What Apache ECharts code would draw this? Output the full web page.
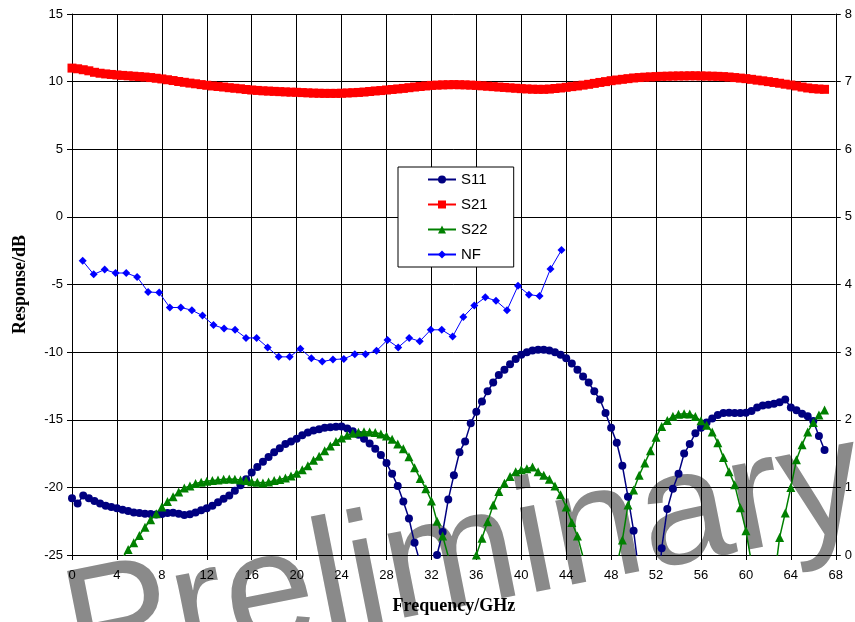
<!DOCTYPE html>
<html>
<head>
<meta charset="utf-8">
<script src="https://cdn.jsdelivr.net/npm/echarts@6/dist/echarts.min.js"></script>
<style>
  html, body { margin: 0; padding: 0; background: #fff; }
  #chart { width: 855px; height: 622px; }
</style>
</head>
<body>
<div id="chart"></div>
<script>
// sweep frequencies (GHz) shared by S11, S21, S22
var freq = [
  0, 0.5, 1, 1.5, 2, 2.5, 3, 3.5, 4, 4.5,
  5, 5.5, 6, 6.5, 7, 7.5, 8, 8.5, 9, 9.5,
  10, 10.5, 11, 11.5, 12, 12.5, 13, 13.5, 14, 14.5,
  15, 15.5, 16, 16.5, 17, 17.5, 18, 18.5, 19, 19.5,
  20, 20.5, 21, 21.5, 22, 22.5, 23, 23.5, 24, 24.5,
  25, 25.5, 26, 26.5, 27, 27.5, 28, 28.5, 29, 29.5,
  30, 30.5, 31, 31.5, 32, 32.5, 33, 33.5, 34, 34.5,
  35, 35.5, 36, 36.5, 37, 37.5, 38, 38.5, 39, 39.5,
  40, 40.5, 41, 41.5, 42, 42.5, 43, 43.5, 44, 44.5,
  45, 45.5, 46, 46.5, 47, 47.5, 48, 48.5, 49, 49.5,
  50, 50.5, 51, 51.5, 52, 52.5, 53, 53.5, 54, 54.5,
  55, 55.5, 56, 56.5, 57, 57.5, 58, 58.5, 59, 59.5,
  60, 60.5, 61, 61.5, 62, 62.5, 63, 63.5, 64, 64.5,
  65, 65.5, 66, 66.5, 67
];

var s11 = [
  -20.8, -21.2, -20.6, -20.8, -21.0, -21.2, -21.35, -21.45, -21.55, -21.65,
  -21.75, -21.85, -21.9, -21.95, -21.97, -22.0, -21.97, -21.9, -21.87, -21.95,
  -22.04, -21.98, -21.85, -21.7, -21.55, -21.35, -21.1, -20.85, -20.6, -20.25,
  -19.85, -19.4, -18.9, -18.5, -18.1, -17.75, -17.4, -17.1, -16.8, -16.6,
  -16.4, -16.15, -15.95, -15.8, -15.7, -15.6, -15.55, -15.52, -15.5, -15.65,
  -15.85, -16.1, -16.4, -16.75, -17.15, -17.6, -18.2, -19.0, -19.9, -21.05,
  -22.3, -24.1, -25.6, -31, -29, -25.0, -23.3, -20.9, -19.1, -17.4,
  -16.6, -15.25, -14.4, -13.65, -12.9, -12.25, -11.7, -11.3, -10.9, -10.5,
  -10.2, -10.0, -9.88, -9.83, -9.83, -9.88, -10.0, -10.2, -10.46, -10.85,
  -11.3, -11.8, -12.25, -12.9, -13.5, -14.5, -15.6, -16.7, -18.4, -20.7,
  -23.2, -26.5, -33, -35, -30, -24.5, -21.6, -20.1, -19.0, -17.5,
  -16.8, -16.0, -15.6, -15.2, -14.9, -14.65, -14.5, -14.48, -14.5, -14.5,
  -14.48, -14.35, -14.1, -13.95, -13.9, -13.82, -13.7, -13.5, -14.1, -14.3,
  -14.55, -14.75, -15.1, -16.2, -17.24
];

var s21 = [
  11.0, 10.95, 10.88, 10.8, 10.69, 10.62, 10.57, 10.53, 10.49, 10.46,
  10.43, 10.4, 10.37, 10.34, 10.3, 10.25, 10.2, 10.14, 10.08, 10.01,
  9.95, 9.89, 9.84, 9.78, 9.73, 9.68, 9.64, 9.6, 9.55, 9.51,
  9.47, 9.42, 9.38, 9.35, 9.32, 9.3, 9.28, 9.26, 9.24, 9.22,
  9.21, 9.19, 9.17, 9.15, 9.14, 9.13, 9.13, 9.13, 9.14, 9.16,
  9.18, 9.2, 9.23, 9.27, 9.31, 9.34, 9.38, 9.42, 9.46, 9.5,
  9.55, 9.6, 9.64, 9.68, 9.72, 9.74, 9.76, 9.77, 9.78, 9.77,
  9.76, 9.74, 9.72, 9.69, 9.66, 9.63, 9.6, 9.57, 9.54, 9.51,
  9.48, 9.46, 9.44, 9.43, 9.43, 9.45, 9.49, 9.53, 9.58, 9.63,
  9.68, 9.74, 9.8, 9.87, 9.94, 10.0, 10.07, 10.12, 10.17, 10.22,
  10.27, 10.3, 10.33, 10.35, 10.37, 10.39, 10.4, 10.41, 10.42, 10.42,
  10.43, 10.43, 10.42, 10.41, 10.4, 10.39, 10.37, 10.34, 10.3, 10.26,
  10.22, 10.17, 10.11, 10.06, 10.0, 9.94, 9.88, 9.81, 9.75, 9.68,
  9.6, 9.53, 9.48, 9.45, 9.43
];

var s22 = [
  -32, -31.5, -31, -30.3, -29.6, -28.9, -28.1, -27.3, -26.3, -25.2,
  -24.6, -24.1, -23.55, -22.95, -22.4, -21.95, -21.45, -21.05, -20.7, -20.35,
  -20.05, -19.9, -19.72, -19.62, -19.55, -19.5, -19.45, -19.4, -19.38, -19.4,
  -19.45, -19.5, -19.58, -19.62, -19.68, -19.6, -19.5, -19.42, -19.3, -19.15,
  -18.96, -18.7, -18.4, -18.0, -17.7, -17.3, -16.95, -16.6, -16.35, -16.15,
  -16.0, -15.92, -15.88, -15.9, -15.95, -16.05, -16.2, -16.45, -16.8, -17.15,
  -17.73, -18.55, -19.35, -20.1, -21.0, -22.5, -23.6, -25.1, -28, -31,
  -31, -28, -25.0, -23.76, -22.55, -21.3, -20.3, -19.7, -19.2, -18.85,
  -18.7, -18.62, -18.5, -18.85, -19.1, -19.4, -19.9, -20.55, -21.45, -22.6,
  -23.6, -25.15, -28, -31, -32, -30, -28, -25.8, -23.9, -21.3,
  -20.2, -19.1, -18.2, -17.3, -16.3, -15.5, -15.05, -14.75, -14.6, -14.55,
  -14.57, -14.76, -15.08, -15.4, -15.9, -16.7, -17.8, -18.85, -19.8, -21.5,
  -23.2, -25.6, -29, -31, -30, -27, -23.7, -21.9, -20.0, -17.95,
  -16.85, -15.9, -15.2, -14.65, -14.28
];

// noise figure, read on the right axis
var nfFreq = [
  0.95, 1.93, 2.91, 3.88, 4.83, 5.80, 6.78, 7.76, 8.71, 9.69,
  10.67, 11.62, 12.60, 13.54, 14.52, 15.49, 16.44, 17.42, 18.40, 19.38,
  20.33, 21.31, 22.28, 23.23, 24.20, 25.18, 26.13, 27.11, 28.09, 29.04,
  30.02, 30.96, 31.94, 32.92, 33.89, 34.84, 35.82, 36.80, 37.75, 38.73,
  39.71, 40.68, 41.63, 42.60, 43.58
];
var nf = [
  4.35, 4.15, 4.22, 4.17, 4.17, 4.11, 3.89, 3.88, 3.66, 3.66,
  3.62, 3.54, 3.40, 3.35, 3.33, 3.21, 3.21, 3.07, 2.93, 2.93,
  3.05, 2.91, 2.86, 2.89, 2.90, 2.97, 2.97, 3.02, 3.18, 3.07,
  3.21, 3.16, 3.33, 3.33, 3.23, 3.52, 3.69, 3.81, 3.76, 3.62,
  3.98, 3.85, 3.83, 4.23, 4.51
];

function pairs(xs, ys) {
  return xs.map(function (x, i) { return [x, ys[i]]; });
}

var chart = echarts.init(document.getElementById('chart'), null, { renderer: 'canvas' });

var font = '"Liberation Sans", Arial, sans-serif';
var serif = '"Liberation Serif", "Times New Roman", serif';

var option = {
  animation: false,
  backgroundColor: '#fff',
  grid: { left: 72, right: 18, top: 14, bottom: 67, containLabel: false },
  graphic: [{
    type: 'text',
    x: 67,
    y: 639,
    rotation: 11.2 * Math.PI / 180,
    z: 1,
    silent: true,
    style: {
      text: 'Preliminary',
      fontSize: 162,
      fontFamily: font,
      fill: '#8a8a8a',
      align: 'left',
      verticalAlign: 'middle'
    }
  }],
  legend: {
    orient: 'vertical',
    left: 398,
    top: 167,
    padding: [5, 26, 5, 29],
    itemGap: 10,
    itemWidth: 28,
    itemHeight: 10,
    backgroundColor: '#fff',
    borderColor: '#000',
    borderWidth: 1,
    borderRadius: 0,
    z: 10,
    textStyle: { fontFamily: font, fontSize: 15, color: '#000', padding: [0, 0, 0, 0] },
    data: ['S11', 'S21', 'S22', 'NF']
  },
  xAxis: {
    type: 'value',
    min: 0,
    max: 68,
    interval: 4,
    z: 3,
    name: 'Frequency/GHz',
    nameLocation: 'middle',
    nameGap: 42,
    nameTextStyle: { fontFamily: serif, fontSize: 18, fontWeight: 'bold', color: '#000' },
    axisLine: { onZero: false, lineStyle: { color: '#000', width: 1 } },
    axisTick: { show: true, length: 5, inside: false, lineStyle: { color: '#000' } },
    axisLabel: { fontFamily: font, fontSize: 13, color: '#000', margin: 14 },
    splitLine: { show: true, lineStyle: { color: '#000', width: 1 } }
  },
  yAxis: [{
    type: 'value',
    min: -25,
    max: 15,
    interval: 5,
    z: 3,
    name: 'Response/dB',
    nameLocation: 'middle',
    nameGap: 43,
    nameRotate: 90,
    nameTextStyle: { fontFamily: serif, fontSize: 18, fontWeight: 'bold', color: '#000' },
    axisLine: { show: true, onZero: false, lineStyle: { color: '#000', width: 1 } },
    axisTick: { show: true, length: 5, lineStyle: { color: '#000' } },
    axisLabel: { fontFamily: font, fontSize: 13, color: '#000', margin: 9 },
    splitLine: { show: true, lineStyle: { color: '#000', width: 1 } }
  }, {
    type: 'value',
    min: 0,
    max: 8,
    interval: 1,
    z: 3,
    position: 'right',
    axisLine: { show: true, onZero: false, lineStyle: { color: '#000', width: 1 } },
    axisTick: { show: true, length: 5, lineStyle: { color: '#000' } },
    axisLabel: { fontFamily: font, fontSize: 13, color: '#000', margin: 9 },
    splitLine: { show: false }
  }],
  series: [{
    name: 'S11',
    type: 'line',
    z: 5,
    clip: true,
    showAllSymbol: true,
    symbol: 'circle',
    symbolSize: 8,
    color: '#000080',
    lineStyle: { color: '#000080', width: 1.5 },
    itemStyle: { color: '#000080' },
    data: pairs(freq, s11)
  }, {
    name: 'S21',
    type: 'line',
    z: 5,
    clip: true,
    showAllSymbol: true,
    symbol: 'rect',
    symbolSize: 9,
    color: '#ff0000',
    lineStyle: { color: '#ff0000', width: 2 },
    itemStyle: { color: '#ff0000' },
    data: pairs(freq, s21)
  }, {
    name: 'S22',
    type: 'line',
    z: 5,
    clip: true,
    showAllSymbol: true,
    symbol: 'triangle',
    symbolSize: 9,
    color: '#008000',
    lineStyle: { color: '#008000', width: 1.5 },
    itemStyle: { color: '#008000' },
    data: pairs(freq, s22)
  }, {
    name: 'NF',
    type: 'line',
    yAxisIndex: 1,
    z: 5,
    clip: true,
    showAllSymbol: true,
    symbol: 'diamond',
    symbolSize: 8,
    color: '#0000ff',
    lineStyle: { color: '#0000ff', width: 1 },
    itemStyle: { color: '#0000ff' },
    data: pairs(nfFreq, nf)
  }]
};

chart.setOption(option);
</script>
</body>
</html>
